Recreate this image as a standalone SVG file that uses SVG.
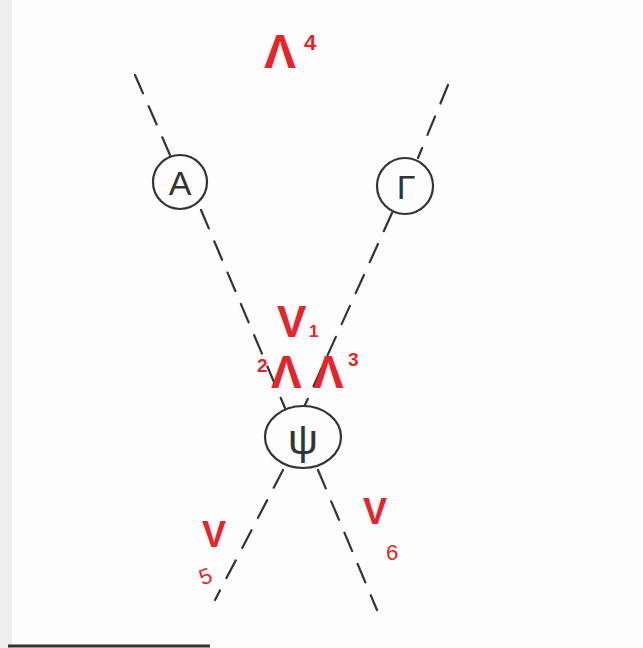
<svg xmlns="http://www.w3.org/2000/svg" width="643" height="648" viewBox="0 0 643 648">
<style>
.edge{stroke:#333;stroke-width:2.2;stroke-dasharray:20 14;fill:none;stroke-linecap:round}
.node{fill:none;stroke:#333;stroke-width:2.2}
.lbl{font-family:"Liberation Sans",sans-serif;fill:#333;text-anchor:middle}
.red{font-family:"Liberation Sans",sans-serif;fill:#e8232a;font-weight:bold}
.sub{font-family:"Liberation Sans",sans-serif;fill:#e8232a}
</style>
<rect width="643" height="648" fill="#fdfdfd"/>
<rect x="0" y="0" width="12" height="648" fill="#eeeeee"/>
<line x1="8" y1="646" x2="210" y2="646" stroke="#333" stroke-width="3"/>
<g id="connectors">
<line class="edge" x1="135" y1="75" x2="170" y2="155"/>
<line class="edge" x1="201" y1="210" x2="285" y2="408"/>
<line class="edge" x1="318" y1="470" x2="377" y2="610"/>
<line class="edge" x1="448" y1="85" x2="418" y2="158"/>
<line class="edge" x1="392" y1="213" x2="305" y2="405"/>
<line class="edge" x1="283" y1="470" x2="215" y2="600"/>
</g>
<g id="node-A">
<circle class="node" cx="180" cy="182" r="27"/>
<text class="lbl" x="180" y="195" font-size="34">A</text>
</g>
<g id="node-Gamma">
<circle class="node" cx="405" cy="186" r="28"/>
<text class="lbl" x="406" y="199" font-size="34">Γ</text>
</g>
<g id="node-Psi">
<ellipse class="node" cx="303" cy="437" rx="38" ry="31"/>
<text class="lbl" x="303" y="454" font-size="42">ψ</text>
</g>
<g id="labels">
<text class="red" x="264" y="68" font-size="48">Λ</text>
<text class="sub" x="304" y="50" font-size="22" font-weight="bold">4</text>
<text class="red" x="277" y="337" font-size="44">V</text>
<text class="sub" x="309" y="337" font-size="17" font-weight="bold">1</text>
<text class="sub" x="257" y="372" font-size="19" font-weight="bold">2</text>
<text class="red" x="271" y="388" font-size="46">Λ</text>
<text class="red" x="313" y="388" font-size="46">Λ</text>
<text class="sub" x="348" y="366" font-size="19" font-weight="bold">3</text>
<text class="red" x="202" y="547" font-size="36">V</text>
<text class="sub" x="199" y="583" font-size="22" transform="rotate(-20 208 575)">5</text>
<text class="red" x="363" y="524" font-size="36">V</text>
<text class="sub" x="386" y="560" font-size="22">6</text>
</g>
</svg>
